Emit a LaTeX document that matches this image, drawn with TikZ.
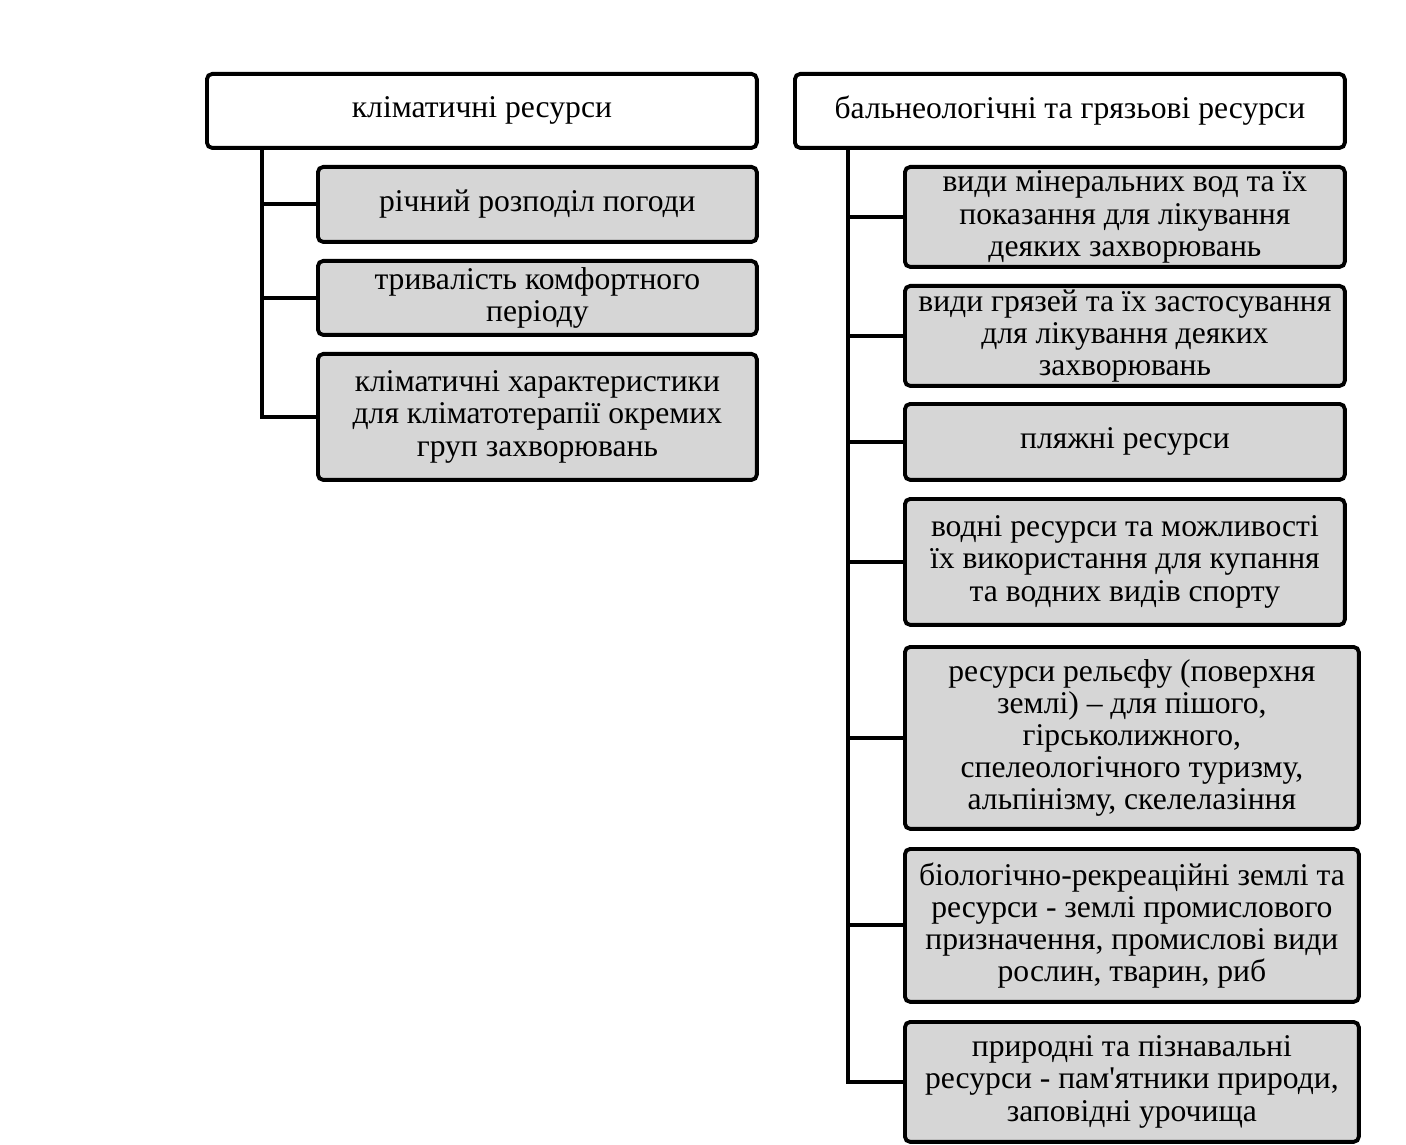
\documentclass[tikz,border=0pt]{standalone}
\usepackage{fontspec}
\setmainfont{Liberation Serif}[Ligatures=TeXOff]
\usetikzlibrary{calc}

\begin{document}
\begin{tikzpicture}
[
x=0.02cm, y=-0.02cm, line width=2.2pt,
topbox/.style  = {draw, rectangle, rounded corners=3pt, fill=white, anchor=north west, inner sep=0pt, align=center, font=\fontsize{18}{18.3}\selectfont},
subbox/.style  = {topbox, fill=black!16},
link/.style    = {draw, line width=2.2pt},
]
\useasboundingbox (0,0) rectangle (1406,1145);

\node at (205,72)[topbox, minimum width=11cm, minimum height=1.48cm] (klim) {кліматичні ресурси};
\node at (793,72)[topbox, minimum width=11cm, minimum height=1.48cm] (baln) {бальнеологічні та грязьові ресурси};

\node at (316,165)[subbox, minimum width=8.78cm, minimum height=1.5cm] (klim1) {річний розподіл погоди};
\node at (316,259)[subbox, minimum width=8.78cm, minimum height=1.48cm] (klim2) {тривалість комфортного\\періоду};
\node at (316,352)[subbox, minimum width=8.78cm, minimum height=2.52cm] (klim3) {кліматичні характеристики\\для кліматотерапії окремих\\груп захворювань};

\node at (903,165)[subbox, minimum width=8.8cm, minimum height=2cm] (baln1) {види мінеральних вод та їх\\показання для лікування\\деяких захворювань};
\node at (903,284)[subbox, minimum width=8.8cm, minimum height=2cm] (baln2) {види грязей та їх застосування\\для лікування деяких\\захворювань};
\node at (903,402)[subbox, minimum width=8.8cm, minimum height=1.52cm] (baln3) {пляжні ресурси};
\node at (903,497)[subbox, minimum width=8.8cm, minimum height=2.52cm] (baln4) {водні ресурси та можливості\\їх використання для купання\\та водних видів спорту};
\node at (903,645)[subbox, minimum width=9.08cm, minimum height=3.64cm] (baln5) {ресурси рельєфу (поверхня\\землі) – для пішого,\\гірськолижного,\\спелеологічного туризму,\\альпінізму, скелелазіння};
\node at (903,847)[subbox, minimum width=9.08cm, minimum height=3.06cm] (baln6) {біологічно-рекреаційні землі та\\ресурси - землі промислового\\призначення, промислові види\\рослин, тварин, риб};
\node at (903,1020)[subbox, minimum width=9.08cm, minimum height=2.4cm] (baln7) {природні та пізнавальні\\ресурси - пам'ятники природи,\\заповідні урочища};

\coordinate (ltrunk) at ($(klim.south west)+(57,0)$);
\coordinate (rtrunk) at ($(baln.south west)+(55,0)$);

\draw[link] (ltrunk) |- (klim3.west);
\foreach \n in {1,2}
  \draw[link] (ltrunk |- klim\n.west) -- (klim\n.west);

\draw[link] (rtrunk) |- (baln7.west);
\foreach \n in {1,...,6}
  \draw[link] (rtrunk |- baln\n.west) -- (baln\n.west);
\end{tikzpicture}
\end{document}
